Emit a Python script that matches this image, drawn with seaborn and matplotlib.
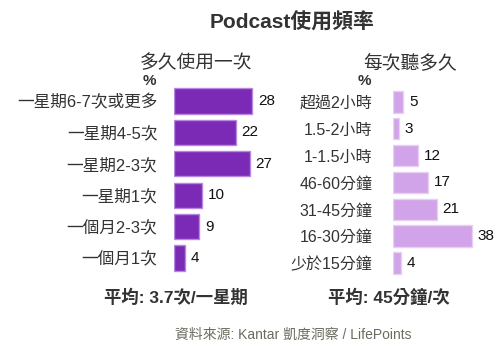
import matplotlib
matplotlib.use("Agg")
import matplotlib.pyplot as plt
import seaborn as sns
import pandas as pd

# --- 데이터 ---
freq_labels = ["一星期6-7次或更多", "一星期4-5次", "一星期2-3次", "一星期1次", "一個月2-3次", "一個月1次"]
freq_values = [28, 22, 27, 10, 9, 4]
dur_labels = ["超過2小時", "1.5-2小時", "1-1.5小時", "46-60分鐘", "31-45分鐘", "16-30分鐘", "少於15分鐘"]
dur_values = [5, 3, 12, 17, 21, 38, 4]

sns.set_style("white")
plt.rcParams["font.family"] = ["Liberation Sans", "Noto Sans CJK TC", "DejaVu Sans"]

W, H = 500, 352
fig = plt.figure(figsize=(W / 100, H / 100), dpi=100)
fig.patch.set_facecolor("white")

TXT = "#333333"


def px_axes(x0, top, w, h):
    return fig.add_axes([x0 / W, 1 - (top + h) / H, w / W, h / H])


def fig_text(x, y, s, **kw):
    fig.text(x / W, 1 - y / H, s, ha="center", va="center", color=TXT, **kw)


# 왼쪽: 多久使用一次
ax1 = px_axes(174, 85.3, 110, 188.4)
df1 = pd.DataFrame({"label": freq_labels, "value": freq_values})
sns.barplot(data=df1, x="value", y="label", color="#7B2AB5", saturation=1,
            width=0.8, edgecolor="#B886DE", linewidth=1, ax=ax1)
ax1.set_xlim(0, 110 / 2.8)
ax1.set_ylim(5.5, -0.5)

# 오른쪽: 每次聽多久
ax2 = px_axes(393, 88.3, 100, 188.3)
df2 = pd.DataFrame({"label": dur_labels, "value": dur_values})
sns.barplot(data=df2, x="value", y="label", color="#D1A3E8", saturation=1,
            width=0.8, edgecolor="#E8CFF4", linewidth=1, ax=ax2)
ax2.set_xlim(0, 100 / 2.08)
ax2.set_ylim(6.5, -0.5)

for ax, pad, size in [(ax1, 12, 12), (ax2, 15, 11.5)]:
    ax.bar_label(ax.containers[0], padding=4, fontsize=11, color="#111111")
    ax.set_xlabel("")
    ax.set_ylabel("")
    ax.set_xticks([])
    ax.tick_params(axis="y", length=0, pad=pad, labelsize=size, labelcolor=TXT)
    sns.despine(ax=ax, left=True, bottom=True)

fig_text(292, 22, "Podcast使用頻率", fontsize=15, fontweight="bold")
fig_text(196, 63, "多久使用一次", fontsize=13.5)
fig_text(410, 63, "每次聽多久", fontsize=13.5)
fig_text(149, 81, "%", fontsize=11, fontweight="bold")
fig_text(364, 81, "%", fontsize=11, fontweight="bold")
fig_text(176, 297, "平均: 3.7次/一星期", fontsize=12.5, fontweight="bold")
fig_text(389, 297, "平均: 45分鐘/次", fontsize=12.5, fontweight="bold")
fig.text(293 / W, 1 - 335 / H, "資料來源: Kantar 凱度洞察 / LifePoints",
         ha="center", va="center", color="#6b6b60", fontsize=10)

fig.savefig("out.png", dpi=100)
